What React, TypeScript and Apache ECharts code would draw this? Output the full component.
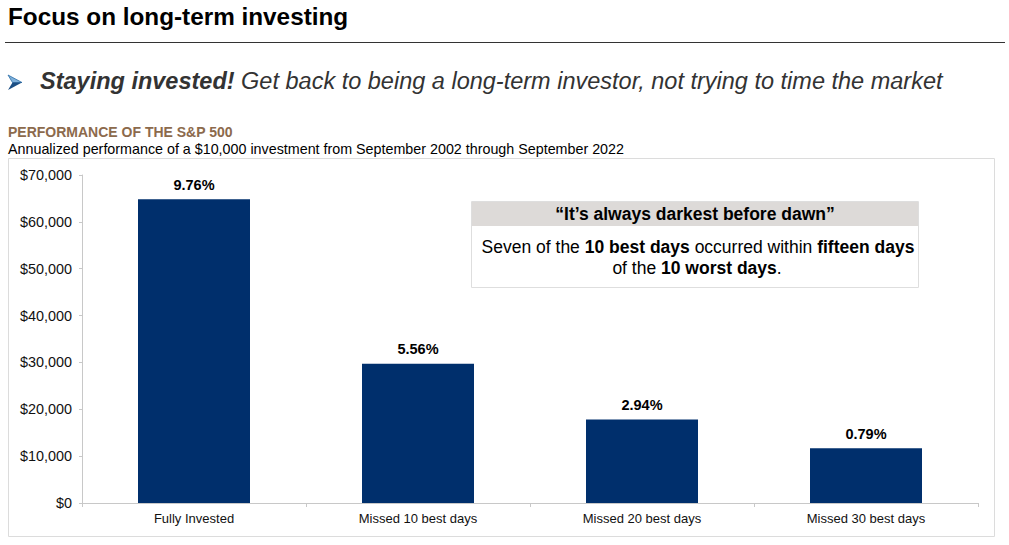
import React, { useEffect, useRef } from "react";
import * as echarts from "echarts";

const categories = ["Fully Invested", "Missed 10 best days", "Missed 20 best days", "Missed 30 best days"];
const values = [64844, 29708, 17826, 11701];
const returnLabels = ["9.76%", "5.56%", "2.94%", "0.79%"];
const yTicks = [0, 10000, 20000, 30000, 40000, 50000, 60000, 70000];

const FONT = "Liberation Sans, Arial, sans-serif";

export default function App() {
  const ref = useRef<HTMLDivElement>(null);
  useEffect(() => {
    if (!ref.current) return;
    const chart = echarts.init(ref.current, undefined, { renderer: "svg" });
    chart.setOption({
      animation: false,
      backgroundColor: "#ffffff",
      textStyle: { fontFamily: FONT },
      grid: { left: 82, right: 31, top: 175, bottom: 42, containLabel: false },
      xAxis: {
        type: "category",
        data: categories,
        axisLine: { lineStyle: { color: "#c8c8c8", width: 1 } },
        axisTick: { show: true, alignWithLabel: false, length: 4, lineStyle: { color: "#c8c8c8" } },
        axisLabel: { color: "#111", fontSize: 13, fontFamily: FONT, margin: 9 },
      },
      yAxis: {
        type: "value",
        min: yTicks[0],
        max: yTicks[yTicks.length - 1],
        interval: 10000,
        splitLine: { show: false },
        axisLine: { show: true, lineStyle: { color: "#c8c8c8", width: 1 } },
        axisTick: { show: true, length: 3, lineStyle: { color: "#c8c8c8" } },
        axisLabel: {
          color: "#111",
          fontSize: 14.4,
          fontFamily: FONT,
          margin: 10,
          formatter: (v: number) => "$" + v.toLocaleString("en-US"),
        },
      },
      series: [
        {
          type: "bar",
          data: values,
          barWidth: "50%",
          itemStyle: { color: "#002F6C" },
          label: {
            show: true,
            position: "top",
            distance: 7,
            fontSize: 14.5,
            fontWeight: "bold",
            color: "#000",
            fontFamily: FONT,
            formatter: (p: any) => returnLabels[p.dataIndex],
          },
        },
      ],
      graphic: [
        {
          type: "text",
          left: 8,
          top: 4,
          style: { text: "Focus on long-term investing", fontSize: 24.3, fontWeight: "bold", fill: "#000", fontFamily: FONT },
        },
        {
          type: "line",
          shape: { x1: 5, y1: 42.5, x2: 1005, y2: 42.5 },
          style: { stroke: "#333", lineWidth: 1 },
        },
        {
          type: "polygon",
          shape: { points: [[8, 75], [22, 82.5], [12.5, 82.5]] },
          style: { fill: "#7FB0DA", stroke: "#2B6EA8", lineWidth: 0.8 },
        },
        {
          type: "polygon",
          shape: { points: [[12.5, 82.5], [22, 82.5], [8, 90]] },
          style: { fill: "#1C4F84" },
        },
        {
          type: "text",
          left: 40,
          top: 69,
          style: {
            text: "{b|Staying invested!} Get back to being a long-term investor, not trying to time the market",
            fontSize: 23.5,
            fontStyle: "italic",
            fill: "#333",
            fontFamily: FONT,
            rich: {
              b: { fontSize: 23.5, fontStyle: "italic", fontWeight: "bold", fill: "#333", fontFamily: FONT },
            },
          },
        },
        {
          type: "text",
          left: 8,
          top: 125,
          style: { text: "PERFORMANCE OF THE S&P 500", fontSize: 14, fontWeight: "bold", fill: "#8C6A4C", fontFamily: FONT },
        },
        {
          type: "text",
          left: 8,
          top: 142,
          style: {
            text: "Annualized performance of a $10,000 investment from September 2002 through September 2022",
            fontSize: 14.3,
            fill: "#000",
            fontFamily: FONT,
          },
        },
        {
          type: "rect",
          shape: { x: 8.5, y: 158.5, width: 986, height: 378 },
          style: { fill: "none", stroke: "#dcdcdc", lineWidth: 1 },
          silent: true,
        },
        {
          type: "rect",
          shape: { x: 471.5, y: 201.5, width: 447, height: 86 },
          style: { fill: "#fff", stroke: "#dedede", lineWidth: 1 },
        },
        {
          type: "rect",
          shape: { x: 472, y: 202, width: 446, height: 24 },
          style: { fill: "#DDDAD8" },
        },
        {
          type: "text",
          x: 695,
          y: 214,
          style: {
            text: "\u201CIt\u2019s always darkest before dawn\u201D",
            fontSize: 17.5,
            fontWeight: "bold",
            fill: "#000",
            align: "center",
            verticalAlign: "middle",
            fontFamily: FONT,
          },
        },
        {
          type: "text",
          x: 698,
          y: 247,
          style: {
            text: "Seven of the {b|10 best days} occurred within {b|fifteen days}",
            fontSize: 17.5,
            fill: "#000",
            align: "center",
            verticalAlign: "middle",
            fontFamily: FONT,
            rich: { b: { fontSize: 17.5, fontWeight: "bold", fill: "#000", fontFamily: FONT } },
          },
        },
        {
          type: "text",
          x: 697,
          y: 268,
          style: {
            text: "of the {b|10 worst days}.",
            fontSize: 17.5,
            fill: "#000",
            align: "center",
            verticalAlign: "middle",
            fontFamily: FONT,
            rich: { b: { fontSize: 17.5, fontWeight: "bold", fill: "#000", fontFamily: FONT } },
          },
        },
      ],
    });
    return () => chart.dispose();
  }, []);
  return <div ref={ref} style={{ width: 1009, height: 545, position: "absolute", left: 0, top: 0 }} />;
}
